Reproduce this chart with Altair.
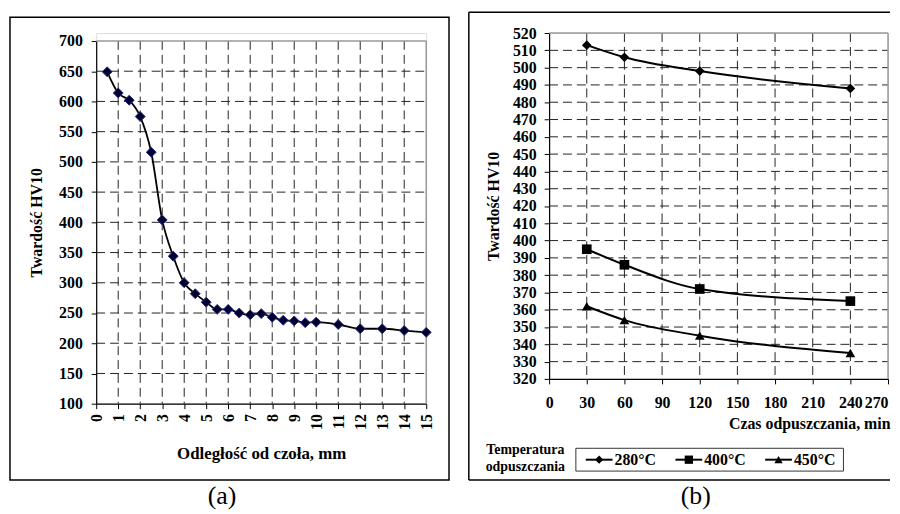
import altair as alt
import pandas as pd

# ---------------- data ----------------
left_x = [0.5, 1, 1.5, 2, 2.5, 3, 3.5, 4, 4.5, 5, 5.5, 6, 6.5, 7, 7.5, 8, 8.5, 9, 9.5, 10, 11, 12, 13, 14, 15]
left_hv = [649, 614, 602, 575, 516, 404, 344, 300, 282, 268, 256, 256, 250, 247, 249, 243, 238, 237, 234, 235, 231, 224, 224, 221, 218]
left_xticks = [0, 1, 2, 3, 4, 5, 6, 7, 8, 9, 10, 11, 12, 13, 14, 15]
left_yticks = [100, 150, 200, 250, 300, 350, 400, 450, 500, 550, 600, 650, 700]

right_time = [30, 60, 120, 240]
series = ["280°C", "400°C", "450°C"]
shapes = ["diamond", "square", "triangle-up"]
hv_280 = [513, 506, 498, 488]
hv_400 = [395, 386, 372, 365]
hv_450 = [362, 354, 345, 335]
right_xticks = [0, 30, 60, 90, 120, 150, 180, 210, 240, 270]
right_yticks = [320, 330, 340, 350, 360, 370, 380, 390, 400, 410, 420, 430, 440, 450,
                460, 470, 480, 490, 500, 510, 520]

FONT = "Liberation Serif, Times New Roman, serif"
one = pd.DataFrame({"a": [0]})
DASH = [9, 5]

def axis_common(**kw):
    base = dict(grid=False, labelFont=FONT, labelFontSize=16, labelFontWeight="bold",
                labelColor="black", tickColor="black", tickSize=5, domainColor="black",
                domainWidth=1.2, labelFlush=False, labelOverlap=False,
                titleFont=FONT, titleFontWeight="bold", titleColor="black")
    base.update(kw)
    return alt.Axis(**base)

# ---------------- left panel ----------------
WL, HL, TOPL = 333, 374, 8
xs_l = alt.Scale(domain=[0, 15], nice=False, zero=False)
ys_l = alt.Scale(domain=[100, 700], range=[HL, TOPL], nice=False, zero=False)
xax_l = axis_common(values=left_xticks, labelAngle=-90, labelPadding=5,
                    title="Odległość od czoła, mm", titleFontSize=17,
                    titleY=50, titleBaseline="middle")
yax_l = axis_common(values=left_yticks, labelPadding=9, title="Twardość HV10",
                    titleFontSize=16, titleX=-60, titleBaseline="middle")

df_l = pd.DataFrame({"x": left_x, "y": left_hv})

frame_l = alt.Chart(one).mark_rect(fillOpacity=0, stroke="black", strokeWidth=1.5).encode(
    x=alt.value(-87), x2=alt.value(356), y=alt.value(-16), y2=alt.value(451))
vgrid_l = alt.Chart(pd.DataFrame({"x": left_xticks[1:-1]})).mark_rule(
    color="#222", strokeDash=DASH, strokeWidth=1).encode(
    x=alt.X("x:Q", scale=xs_l, axis=xax_l), y=alt.value(TOPL), y2=alt.value(HL))
hgrid_l = alt.Chart(pd.DataFrame({"y": left_yticks[1:-1]})).mark_rule(
    color="#222", strokeDash=DASH, strokeWidth=1).encode(
    y=alt.Y("y:Q", scale=ys_l, axis=yax_l), x=alt.value(0), x2=alt.value(WL))
btop_l = alt.Chart(one).mark_rule(color="#999", strokeWidth=1.5).encode(
    x=alt.value(0), x2=alt.value(WL), y=alt.value(TOPL))
bright_l = alt.Chart(one).mark_rule(color="#999", strokeWidth=1.5).encode(
    x=alt.value(WL), y=alt.value(TOPL), y2=alt.value(HL))
line_l = alt.Chart(df_l).mark_line(color="black", strokeWidth=1.8, interpolate="monotone").encode(
    x=alt.X("x:Q", scale=xs_l, axis=xax_l), y=alt.Y("y:Q", scale=ys_l, axis=yax_l))
pts_l = alt.Chart(df_l).mark_point(shape="diamond", filled=True, size=100, fill="#00002a",
                                   stroke="#2a2a9a", strokeWidth=1, opacity=1).encode(
    x=alt.X("x:Q", scale=xs_l, axis=xax_l), y=alt.Y("y:Q", scale=ys_l, axis=yax_l))
cap_l = alt.Chart(one).mark_text(text="(a)", font=FONT, fontSize=26, color="black",
                                 baseline="middle").encode(x=alt.value(127), y=alt.value(467))

left = alt.layer(frame_l, vgrid_l, hgrid_l, btop_l, bright_l, line_l, pts_l, cap_l).properties(
    width=WL, height=HL)

# ---------------- right panel ----------------
WR, HR = 342, 349
FR_R = 344  # right limit of the drawing (page edge)
xs_r = alt.Scale(domain=[0, 270], nice=False, zero=False)
ys_r = alt.Scale(domain=[320, 520], nice=False, zero=False)
xax_r = axis_common(values=right_xticks, labelAngle=0, labelPadding=11,
                    labelAlign={"condition": {"test": "datum.value >= 270", "value": "right"},
                                "value": "center"},
                    title="Czas odpuszczania, min", titleFontSize=16,
                    titleX=FR_R, titleY=45, titleAlign="right", titleBaseline="middle")
yax_r = axis_common(values=right_yticks, labelPadding=8, title="Twardość HV10",
                    titleFontSize=16, titleX=-56, titleBaseline="middle")

rows = []
for name, vals in zip(series, [hv_280, hv_400, hv_450]):
    for t, v in zip(right_time, vals):
        rows.append({"x": t, "y": v, "s": name})
df_r = pd.DataFrame(rows)

frame_r = [
    alt.Chart(one).mark_rule(color="black", strokeWidth=1.5).encode(
        x=alt.value(-81), x2=alt.value(FR_R), y=alt.value(-21)),
    alt.Chart(one).mark_rule(color="black", strokeWidth=1.5).encode(
        x=alt.value(-81), x2=alt.value(FR_R), y=alt.value(451)),
    alt.Chart(one).mark_rule(color="black", strokeWidth=1.5).encode(
        x=alt.value(-81), y=alt.value(-21), y2=alt.value(451)),
]
vgrid_r = alt.Chart(pd.DataFrame({"x": right_xticks[1:-1]})).mark_rule(
    color="#222", strokeDash=DASH, strokeWidth=1).encode(
    x=alt.X("x:Q", scale=xs_r, axis=xax_r), y=alt.value(0), y2=alt.value(HR))
hgrid_r = alt.Chart(pd.DataFrame({"y": right_yticks[1:-1]})).mark_rule(
    color="#222", strokeDash=DASH, strokeWidth=1).encode(
    y=alt.Y("y:Q", scale=ys_r, axis=yax_r), x=alt.value(0), x2=alt.value(WR))
btop_r = alt.Chart(one).mark_rule(color="#999", strokeWidth=1.5).encode(
    x=alt.value(0), x2=alt.value(WR), y=alt.value(0))
bright_r = alt.Chart(one).mark_rule(color="#999", strokeWidth=1.5).encode(
    x=alt.value(WR), y=alt.value(0), y2=alt.value(HR))
line_r = alt.Chart(df_r).mark_line(color="black", strokeWidth=2, interpolate="monotone").encode(
    x=alt.X("x:Q", scale=xs_r, axis=xax_r), y=alt.Y("y:Q", scale=ys_r, axis=yax_r),
    detail="s:N")
pts_r = alt.Chart(df_r).mark_point(filled=True, color="black", size=95, opacity=1).encode(
    x=alt.X("x:Q", scale=xs_r, axis=xax_r), y=alt.Y("y:Q", scale=ys_r, axis=yax_r),
    shape=alt.Shape("s:N", scale=alt.Scale(domain=series, range=shapes), legend=None))

# legend (drawn as decoration below the plot)
LEG_Y = 430.5
leg_layers = [
    alt.Chart(one).mark_rect(fillOpacity=0, stroke="#333", strokeWidth=1).encode(
        x=alt.value(27), x2=alt.value(297), y=alt.value(419), y2=alt.value(442)),
    alt.Chart(one).mark_text(text="Temperatura", font=FONT, fontSize=14, fontWeight="bold",
                             color="black", baseline="middle").encode(
        x=alt.value(-24), y=alt.value(421)),
    alt.Chart(one).mark_text(text="odpuszczania", font=FONT, fontSize=14, fontWeight="bold",
                             color="black", baseline="middle").encode(
        x=alt.value(-24), y=alt.value(438)),
]
for i, (name, shp) in enumerate(zip(series, shapes)):
    x0 = 37 + i * 90.5
    leg_layers.append(alt.Chart(one).mark_rule(color="black", strokeWidth=2).encode(
        x=alt.value(x0), x2=alt.value(x0 + 27), y=alt.value(LEG_Y)))
    leg_layers.append(alt.Chart(one).mark_point(shape=shp, filled=True, color="black",
                                                size=70, opacity=1).encode(
        x=alt.value(x0 + 13.5), y=alt.value(LEG_Y)))
    leg_layers.append(alt.Chart(pd.DataFrame({"s": [name]})).mark_text(
        align="left", baseline="middle", font=FONT, fontSize=16, fontWeight="bold",
        color="black").encode(x=alt.value(x0 + 29), y=alt.value(LEG_Y + 0.5), text="s:N"))

cap_r = alt.Chart(one).mark_text(text="(b)", font=FONT, fontSize=26, color="black",
                                 baseline="middle").encode(x=alt.value(148), y=alt.value(467))

right = alt.layer(*frame_r, vgrid_r, hgrid_r, btop_r, bright_r, line_r, pts_r,
                  *leg_layers, cap_r).properties(width=WR, height=HR)

chart = alt.hconcat(left, right, spacing=16).properties(padding=0).configure_view(
    stroke=None).configure(background="white")

chart.save("out.html", embed_options={"renderer": "svg", "actions": False})
